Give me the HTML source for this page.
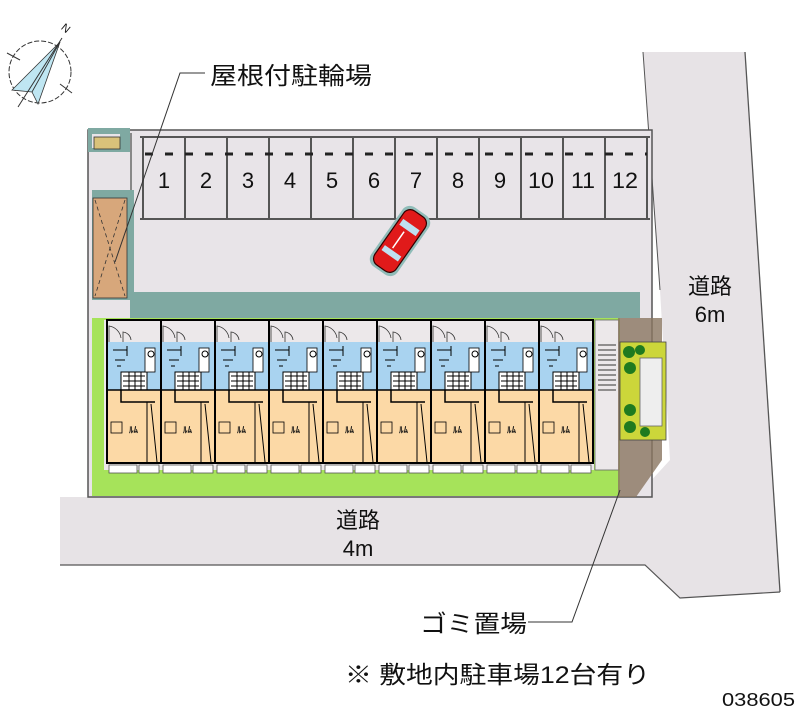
<!DOCTYPE html>
<html><head><meta charset="utf-8"><style>
html,body{margin:0;padding:0;background:#fff;}
svg{display:block}
text{font-family:"Liberation Sans","Noto Sans CJK JP",sans-serif;fill:#111}
</style></head><body>
<svg width="800" height="727" viewBox="0 0 800 727" xmlns="http://www.w3.org/2000/svg">
<defs>
<g id="unit">
 <rect x="0" y="0" width="54" height="22" fill="#ece8ea"/>
 <path d="M2 22 V6 A14 14 0 0 1 14 18" fill="none" stroke="#333" stroke-width="0.8"/>
 <path d="M16 22 V12 A9 9 0 0 1 24 20" fill="none" stroke="#333" stroke-width="0.8"/>
 <rect x="0" y="22" width="54" height="48" fill="#a9d3f0"/>
 <rect x="0" y="70" width="54" height="73" fill="#fcd9a6"/>
 <rect x="14" y="52" width="26" height="18" fill="#fff" stroke="#000" stroke-width="1"/>
 <path d="M16 56h22M16 61h22M16 66h22M22 52v18M28 52v18M34 52v18" stroke="#000" stroke-width="1"/>
 <rect x="38" y="28" width="10" height="24" fill="#fff" stroke="#000" stroke-width="0.8"/>
 <path d="M6 30h14M20 26v10M8 40h10M10 46h4" stroke="#000" stroke-width="1"/>
 <circle cx="44" cy="34" r="3" fill="none" stroke="#000"/>
 <path d="M0 70H54M14 70V82H48M14 82" fill="none" stroke="#000" stroke-width="1.5"/>
 <path d="M40 82V143M44 84L50 142" stroke="#000" stroke-width="1" fill="none"/>
 <rect x="4" y="102" width="11" height="11" fill="none" stroke="#000" stroke-width="0.8"/>
 <text x="22" y="113" font-size="9" style="font-weight:bold">ﾙﾑ</text>
 <rect x="0" y="0" width="54" height="143" fill="none" stroke="#000" stroke-width="2"/>
 <rect x="2" y="145" width="28" height="8" fill="#fff" stroke="#555" stroke-width="0.8"/>
 <rect x="32" y="145" width="20" height="8" fill="#fff" stroke="#555" stroke-width="0.8"/>
</g>
</defs>

<!-- roads -->
<polygon points="643,52 745,52 780,592 680,598 645,565 60,565 60,497 636,497 670,460 660,290" fill="#e7e3e6"/>
<polyline points="643,52 660,290" fill="none" stroke="#555" stroke-width="1"/>
<polyline points="745,52 780,592" fill="none" stroke="#555" stroke-width="1.3"/>
<polyline points="60,565 645,565 680,598 780,592" fill="none" stroke="#555" stroke-width="1.2"/>

<!-- lot -->
<rect x="88" y="130" width="564" height="367" fill="#e8e4e8" stroke="#555" stroke-width="1.5"/>
<rect x="88" y="128" width="42" height="24" fill="#7fa9a2"/>
<rect x="92" y="134" width="28" height="14" fill="#e8e4e8"/>
<rect x="94" y="137" width="26" height="12" fill="#d9c27a" stroke="#333" stroke-width="0.8"/>
<rect x="130" y="133" width="2" height="164" fill="#888"/>
<rect x="92" y="190" width="42" height="110" fill="#7fa9a2"/>
<rect x="93" y="198" width="34" height="100" fill="#d7a77b" stroke="#333" stroke-width="0.8"/>
<path d="M95 200 L125 296 M125 200 L95 296" stroke="#333" stroke-width="0.8" stroke-dasharray="4,3"/>
<rect x="140" y="136" width="510" height="2" fill="#555"/>
<rect x="140" y="218" width="510" height="2" fill="#555"/>
<g stroke="#555" stroke-width="2">
<line x1="143" y1="138" x2="143" y2="220"/><line x1="185" y1="138" x2="185" y2="220"/><line x1="227" y1="138" x2="227" y2="220"/><line x1="269" y1="138" x2="269" y2="220"/><line x1="311" y1="138" x2="311" y2="220"/><line x1="353" y1="138" x2="353" y2="220"/><line x1="395" y1="138" x2="395" y2="220"/><line x1="437" y1="138" x2="437" y2="220"/><line x1="479" y1="138" x2="479" y2="220"/><line x1="521" y1="138" x2="521" y2="220"/><line x1="563" y1="138" x2="563" y2="220"/><line x1="605" y1="138" x2="605" y2="220"/><line x1="647" y1="138" x2="647" y2="220"/>
</g>
<line x1="145" y1="154" x2="647" y2="154" stroke="#222" stroke-width="3" stroke-dasharray="8,12"/>
<g font-size="22" text-anchor="middle">
<text x="164" y="188">1</text><text x="206" y="188">2</text><text x="248" y="188">3</text><text x="290" y="188">4</text><text x="332" y="188">5</text><text x="374" y="188">6</text><text x="416" y="188">7</text><text x="458" y="188">8</text><text x="500" y="188">9</text><text x="541" y="188" textLength="26" lengthAdjust="spacingAndGlyphs">10</text><text x="583" y="188" textLength="24" lengthAdjust="spacingAndGlyphs">11</text><text x="625" y="188" textLength="26" lengthAdjust="spacingAndGlyphs">12</text>
</g>
<g transform="translate(400,241) rotate(35)">
<rect x="-16" y="-36" width="32" height="72" rx="9" fill="#8fbcb8"/>
<rect x="-13" y="-33" width="26" height="66" rx="8" fill="#e01a1a" stroke="#300" stroke-width="1.2"/>
<rect x="-10" y="-20" width="20" height="7" fill="#bfe0f0"/>
<rect x="-10" y="12" width="20" height="6" fill="#bfe0f0"/>
<line x1="-2" y1="-10" x2="-2" y2="10" stroke="#fff" stroke-width="1.5"/>
</g>
<rect x="130" y="292" width="510" height="26" fill="#7fa9a2"/>
<rect x="95" y="300" width="35" height="18" fill="#e8e4e8"/>
<rect x="92" y="318" width="528" height="178" fill="#a6e35a"/>
<rect x="104" y="320" width="490" height="150" fill="#ece8ea"/>
<rect x="595" y="320" width="24" height="150" fill="#ece8ea" stroke="#666" stroke-width="0.8"/>
<g stroke="#333" stroke-width="1"><path d="M598 345h18M598 350h18M598 355h18M598 360h18M598 365h18M598 370h18M598 375h18M598 380h18M598 385h18M598 390h18"/></g>
<g transform="translate(107,320)"><use href="#unit"/></g>
<g transform="translate(161,320)"><use href="#unit"/></g>
<g transform="translate(215,320)"><use href="#unit"/></g>
<g transform="translate(269,320)"><use href="#unit"/></g>
<g transform="translate(323,320)"><use href="#unit"/></g>
<g transform="translate(377,320)"><use href="#unit"/></g>
<g transform="translate(431,320)"><use href="#unit"/></g>
<g transform="translate(485,320)"><use href="#unit"/></g>
<g transform="translate(539,320)"><use href="#unit"/></g>
<rect x="618" y="318" width="44" height="120" fill="#8a7560" opacity="0.8"/>
<polygon points="618,438 662,438 662,460 636,497 618,497" fill="#8a7560" opacity="0.8"/>
<rect x="620" y="342" width="46" height="98" fill="#ccd63a" stroke="#444" stroke-width="0.8"/>
<rect x="640" y="358" width="22" height="68" fill="#eeeeee" stroke="#666" stroke-width="0.8"/>
<g fill="#1f7a1f"><circle cx="629" cy="352" r="6"/><circle cx="640" cy="350" r="5"/><circle cx="630" cy="368" r="6"/><circle cx="630" cy="410" r="6"/><circle cx="630" cy="427" r="6"/><circle cx="645" cy="432" r="5"/></g>
<g>
<circle cx="40" cy="72" r="31" fill="#fff" stroke="#333" stroke-width="1" stroke-dasharray="5,2"/>
<polygon points="60,42 12,90 32,92" fill="#bfe6f2" stroke="#333" stroke-width="0.8"/>
<polygon points="60,42 32,92 38,104" fill="#bfe6f2" stroke="#333" stroke-width="0.8"/>
<line x1="62" y1="38" x2="18" y2="107" stroke="#333"/>
<line x1="7" y1="53" x2="20" y2="60" stroke="#333"/>
<line x1="60" y1="84" x2="72" y2="93" stroke="#333"/>
<text x="62" y="32" font-size="11" transform="rotate(40 66 28)">N</text>
</g>
<polyline points="205,73 180,73 115,262" fill="none" stroke="#333" stroke-width="1"/>
<text x="210" y="84" font-size="24" textLength="162" lengthAdjust="spacingAndGlyphs">屋根付駐輪場</text>
<text x="710" y="294" font-size="22" text-anchor="middle">道路</text>
<text x="710" y="322" font-size="22" text-anchor="middle">6m</text>
<text x="358" y="528" font-size="22" text-anchor="middle">道路</text>
<text x="358" y="556" font-size="22" text-anchor="middle">4m</text>
<polyline points="528,622 572,622 620,490" fill="none" stroke="#333" stroke-width="1"/>
<text x="420" y="632" font-size="24" textLength="107" lengthAdjust="spacingAndGlyphs">ゴミ置場</text>
<text x="345" y="683" font-size="24" textLength="305" lengthAdjust="spacingAndGlyphs">※ 敷地内駐車場12台有り</text>
<text x="722" y="706" font-size="18" textLength="73" lengthAdjust="spacingAndGlyphs">038605</text>
</svg>
</body></html>
